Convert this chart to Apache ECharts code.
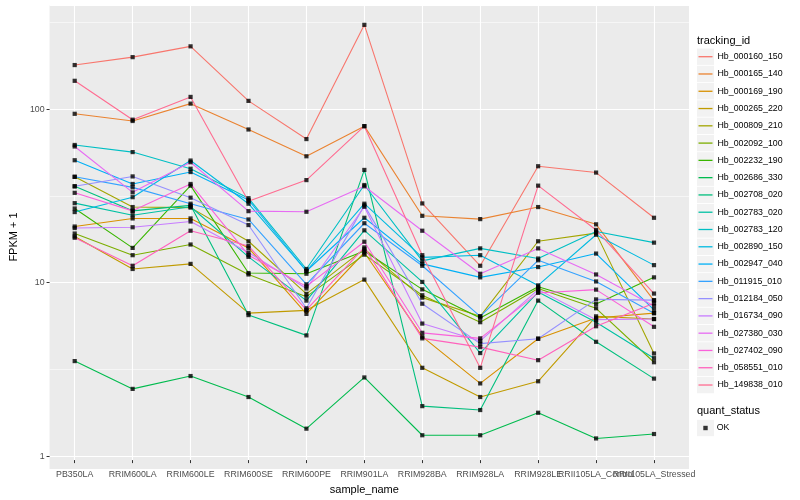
<!DOCTYPE html>
<html><head><meta charset="utf-8">
<script src="https://cdn.jsdelivr.net/npm/echarts@6/dist/echarts.min.js"></script>
<style>html,body{margin:0;padding:0;background:#fff}#c{width:800px;height:500px}</style>
</head><body><div id="c"></div>
<script>
// ---------- data ----------
const categories = ['PB350LA','RRIM600LA','RRIM600LE','RRIM600SE','RRIM600PE','RRIM901LA','RRIM928BA','RRIM928LA','RRIM928LE','RRII105LA_Control','RRII105LA_Stressed'];
const yTickValues = [1, 10, 100];
const trackingIds = ['Hb_000160_150','Hb_000165_140','Hb_000169_190','Hb_000265_220','Hb_000809_210','Hb_002092_100','Hb_002232_190','Hb_002686_330','Hb_002708_020','Hb_002783_020','Hb_002783_120','Hb_002890_150','Hb_002947_040','Hb_011915_010','Hb_012184_050','Hb_016734_090','Hb_027380_030','Hb_027402_090','Hb_058551_010','Hb_149838_010'];

const Hb_000160_150 = [177, 197, 228, 109, 65, 305, 27.2, 11.7, 45, 41.3, 22.4];
const Hb_000165_140 = [91.5, 83, 105, 74, 51.5, 77.4, 23, 22, 25.9, 20.5, 7.3];
const Hb_000169_190 = [19.9, 22.2, 22.2, 14.9, 6.1, 14.0, 4.48, 2.38, 4.36, 5.77, 6.16];
const Hb_000265_220 = [17.4, 11.2, 12, 6.16, 6.4, 9.7, 2.94, 1.98, 2.45, 5.9, 5.69];
const Hb_000809_210 = [39, 25.9, 25.7, 16.3, 8.0, 14.7, 7.6, 5.9, 16.3, 18.2, 3.57];
const Hb_002092_100 = [18.1, 13.5, 15.6, 10.4, 7.7, 13.6, 7.85, 5.45, 8.6, 6.58, 3.17];
const Hb_002232_190 = [25.4, 14.9, 34.6, 10.6, 10.5, 14.3, 8.5, 5.77, 8.8, 6.97, 10];
const Hb_002686_330 = [3.22, 2.21, 2.63, 1.98, 1.29, 2.58, 1.18, 1.18, 1.6, 1.13, 1.2];
const Hb_002708_020 = [34.3, 24.6, 26.5, 6.0, 4.56, 42.8, 1.75, 1.66, 7.3, 4.18, 2.54];
const Hb_002783_020 = [27.3, 23.2, 26, 13.2, 7.3, 18.9, 9.4, 3.59, 8.2, 5.44, 3.35];
const Hb_002783_120 = [60, 54.5, 43.5, 29.2, 11.2, 34.9, 12.5, 14.8, 12.9, 18.6, 16];
const Hb_002890_150 = [24.2, 29.6, 48.6, 27.1, 10.9, 27.1, 13.1, 13.5, 8.97, 17.8, 11.8];
const Hb_002947_040 = [48.8, 35.4, 41.6, 28.5, 10.9, 22.4, 12, 10, 11.5, 13.8, 6.44];
const Hb_011915_010 = [39, 33.8, 27.1, 21.9, 9.1, 20.8, 11.7, 5.9, 12.6, 9.46, 6.16];
const Hb_012184_050 = [34.3, 39.2, 29.4, 20.3, 6.58, 26.5, 7.0, 4.08, 4.36, 7.42, 7.35];
const Hb_016734_090 = [19.5, 19.7, 21.3, 14.0, 8.6, 26, 5.35, 4.23, 8.47, 5.64, 5.69];
const Hb_027380_030 = [58.8, 31.6, 47.5, 24.5, 24.3, 34.3, 18.8, 10.5, 14.8, 10.4, 6.79];
const Hb_027402_090 = [31.4, 24.6, 35.4, 13.5, 8.85, 16.2, 4.72, 4.38, 8.1, 8.47, 5.12];
const Hb_058551_010 = [17.1, 11.7, 18.8, 15.3, 6.44, 15, 4.38, 3.89, 3.26, 5.16, 7.04];
const Hb_149838_010 = [143, 84.5, 115, 28, 37.3, 77.4, 13.5, 2.94, 34.6, 19, 8.03];

const seriesValues = [Hb_000160_150, Hb_000165_140, Hb_000169_190, Hb_000265_220, Hb_000809_210, Hb_002092_100, Hb_002232_190, Hb_002686_330, Hb_002708_020, Hb_002783_020, Hb_002783_120, Hb_002890_150, Hb_002947_040, Hb_011915_010, Hb_012184_050, Hb_016734_090, Hb_027380_030, Hb_027402_090, Hb_058551_010, Hb_149838_010];
const statusName = 'OK';

// ---------- style ----------
const colors = ['#F8766D','#EA8331','#D89000','#C09B00','#A3A500','#7CAE00','#39B600','#00BB4E','#00BF7D','#00C1A3','#00BFC4','#00BAE0','#00B0F6','#35A2FF','#9590FF','#C77CFF','#E76BF3','#FA62DB','#FF62BC','#FF6C91'];
const FONT = 'Liberation Sans, Arial, Helvetica, sans-serif';
const yMin = 0.843, yMax = 399;
const panelTop = 5, panelBottom = 31;

const chart = echarts.init(document.getElementById('c'), null, {renderer: 'canvas'});

const lineSeries = trackingIds.map((id, s) => ({
  name: id, type: 'line', xAxisIndex: 1, yAxisIndex: 2,
  data: seriesValues[s], symbol: 'none', showSymbol: false,
  lineStyle: {color: colors[s], width: 1.1}, itemStyle: {color: colors[s]},
  silent: true, animation: false, z: 2
}));
const pointData = [];
seriesValues.forEach(vals => vals.forEach((v, i) => pointData.push([categories[i], v])));

// legend key backgrounds (decoration)
const keyRects = [];
const keyStep = 17.28, firstKey = 56.7;
for (let i = 0; i < trackingIds.length; i++) {
  keyRects.push({type: 'rect', shape: {x: 697, y: firstKey + keyStep * i - 8.2, width: 17, height: 16.4}, style: {fill: '#F2F2F2'}, silent: true, z: 0});
}
keyRects.push({type: 'rect', shape: {x: 697, y: 428 - 8.2, width: 17, height: 16.4}, style: {fill: '#F2F2F2'}, silent: true, z: 0});

chart.setOption({
  animation: false,
  textStyle: {fontFamily: FONT},
  graphic: keyRects,
  title: [
    {text: 'tracking_id', left: 697, top: 35, padding: 0, textStyle: {fontSize: 11, fontWeight: 'normal', color: '#000', fontFamily: FONT}},
    {text: 'quant_status', left: 697, top: 405, padding: 0, textStyle: {fontSize: 11, fontWeight: 'normal', color: '#000', fontFamily: FONT}}
  ],
  legend: [
    {orient: 'vertical', left: 698.5, top: firstKey - keyStep / 2, padding: 0, itemGap: 0,
     itemWidth: 14, itemHeight: 1.3, selectedMode: false,
     textStyle: {fontSize: 8.8, color: '#000', lineHeight: keyStep, fontFamily: FONT},
     data: trackingIds.map((n, i) => ({name: n, icon: 'rect', itemStyle: {color: colors[i]}}))},
    {orient: 'vertical', left: 703.3, top: 428 - keyStep / 2, padding: 0, itemGap: 0,
     itemWidth: 4.4, itemHeight: 4.4, selectedMode: false,
     textStyle: {fontSize: 8.8, color: '#000', lineHeight: keyStep, fontFamily: FONT, padding: [0, 0, 0, 4]},
     data: [{name: statusName, icon: 'rect', itemStyle: {color: '#000'}}]}
  ],
  grid: [
    {left: 40.5, right: 111, top: panelTop, bottom: panelBottom, show: true, backgroundColor: '#EBEBEB', borderWidth: 0, containLabel: false},
    {left: 74.7, right: 146, top: panelTop, bottom: panelBottom, show: false, containLabel: false}
  ],
  xAxis: [
    {type: 'value', gridIndex: 0, min: 0, max: 1, show: false},
    {type: 'category', gridIndex: 1, data: categories, boundaryGap: false,
     axisLine: {show: false}, axisTick: {show: true, length: 3, lineStyle: {color: '#333333', width: 1}},
     axisLabel: {interval: 0, hideOverlap: false, margin: 10, fontSize: 8.8, color: '#4D4D4D', fontFamily: FONT},
     splitLine: {show: true, lineStyle: {color: '#FFFFFF', width: 1.1}},
     name: 'sample_name', nameLocation: 'middle', nameGap: 15,
     nameTextStyle: {fontSize: 11, color: '#000', fontFamily: FONT}}
  ],
  yAxis: [
    {type: 'log', logBase: 10, gridIndex: 0, min: yMin, max: yMax, position: 'left',
     axisLine: {show: false}, axisTick: {show: true, length: 3, lineStyle: {color: '#333333'}},
     axisLabel: {fontSize: 8.8, color: '#4D4D4D', margin: 5, showMinLabel: false, showMaxLabel: false, fontFamily: FONT,
       formatter: v => (yTickValues.indexOf(Math.round(v)) >= 0 ? String(Math.round(v)) : '')},
     splitLine: {show: true, lineStyle: {color: '#FFFFFF', width: 1.1}},
     name: 'FPKM + 1', nameLocation: 'middle', nameGap: 24,
     nameTextStyle: {fontSize: 11, color: '#000', fontFamily: FONT}, z: 1},
    {type: 'log', logBase: Math.sqrt(10), gridIndex: 0, min: yMin, max: yMax, position: 'left',
     axisLine: {show: false}, axisTick: {show: false}, axisLabel: {show: false},
     splitLine: {show: true, lineStyle: {color: '#FFFFFF', width: 0.55}}, z: 0},
    {type: 'log', logBase: 10, gridIndex: 1, min: yMin, max: yMax, show: false,
     splitLine: {show: false}}
  ],
  series: lineSeries.concat([{
    name: statusName, type: 'scatter', xAxisIndex: 1, yAxisIndex: 2,
    data: pointData, symbol: 'rect', symbolSize: 4.2,
    itemStyle: {color: '#000'}, silent: true, z: 5
  }])
});
</script>
</body></html>
